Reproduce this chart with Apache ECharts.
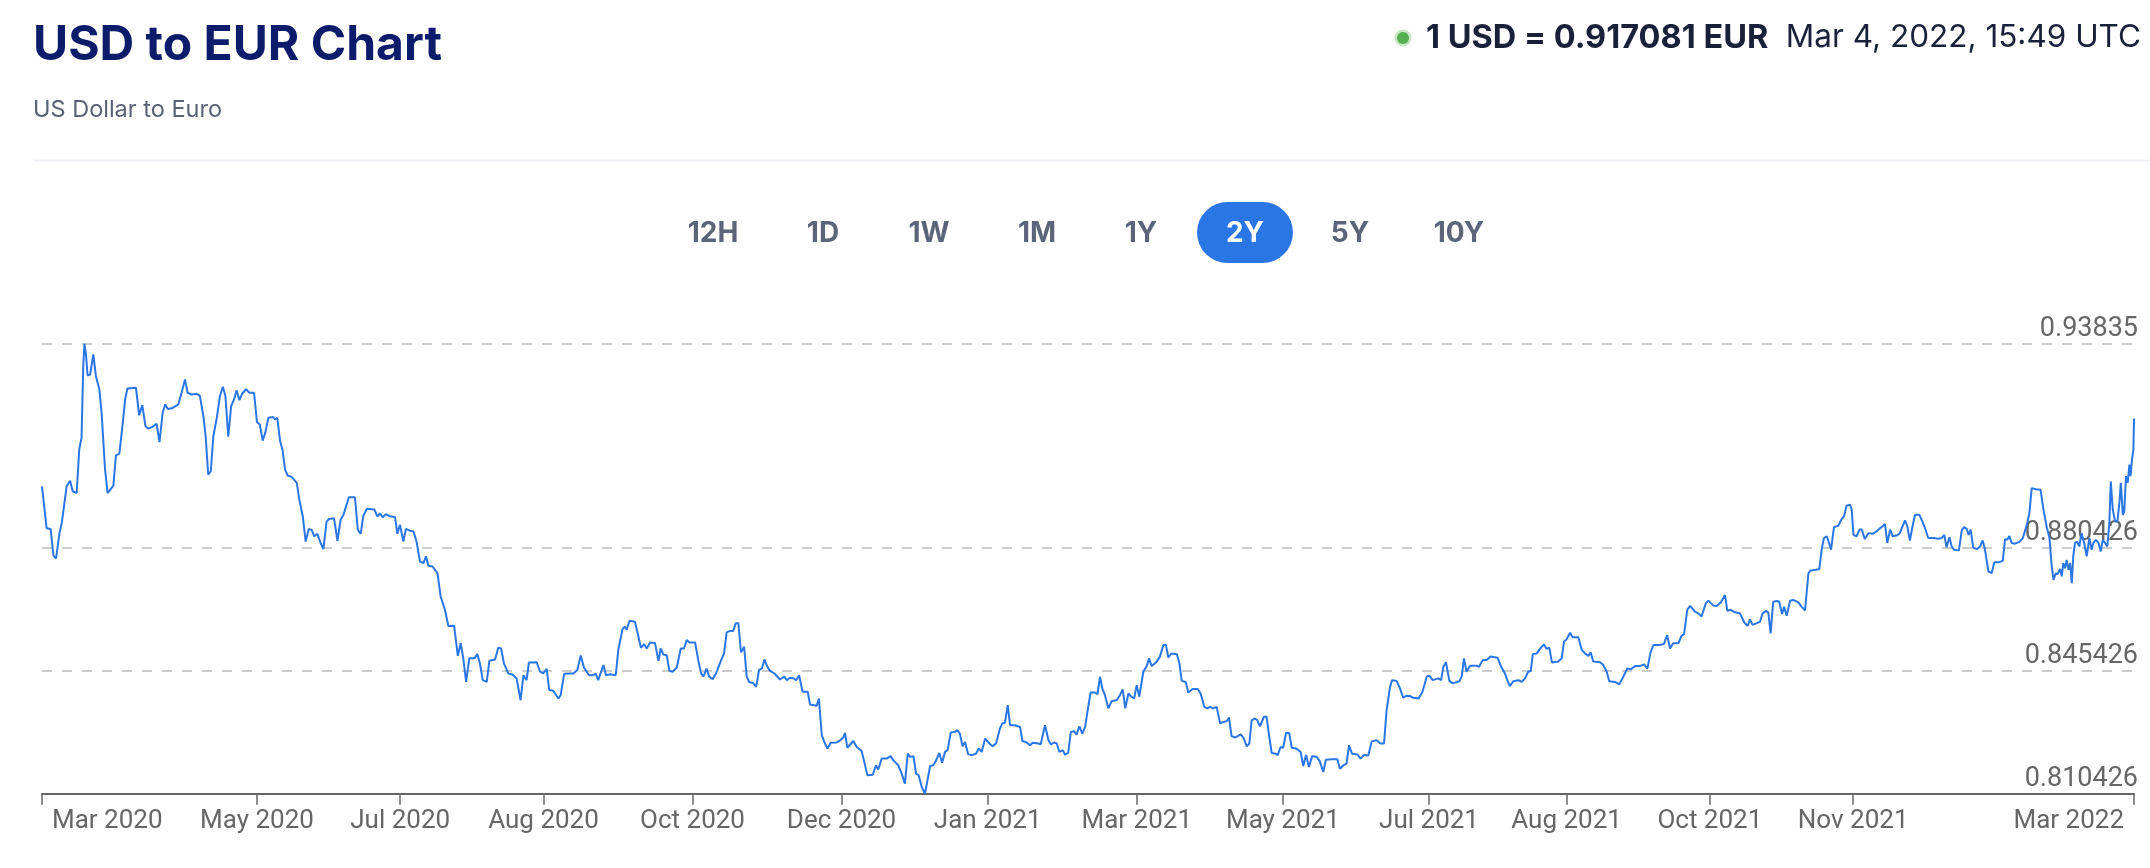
<!DOCTYPE html>
<html lang="en">
<head>
<meta charset="UTF-8">
<title>USD to EUR Chart</title>
<script src="https://cdn.jsdelivr.net/npm/echarts@6/dist/echarts.min.js"></script>
<style>
html, body { margin: 0; padding: 0; background: #fff; }
#chart { width: 2150px; height: 868px; }
</style>
</head>
<body>
<div id="chart"></div>
<script>
// [days since 4 Mar 2020, USD->EUR rate]
const spring2020 = [
[0,0.8978],[1.6,0.8859],[3.0,0.8857],[4.0,0.8781],[4.9,0.8773],[6.1,0.8845],[6.9,0.8874],[8.6,0.8978],[9.8,0.8994],[10.7,0.8964],
[12.1,0.8959],[13.0,0.9083],[13.8,0.9116],[14.4,0.9320],[14.8,0.93835],[15.4,0.9349],[15.9,0.9293],[16.8,0.9296],[17.9,0.9353],[18.8,0.9292],
[20.0,0.9254],[20.8,0.9187],[22.0,0.9026],[22.9,0.8959],[23.7,0.8967],[24.9,0.8980],[25.8,0.9066],[27.0,0.9071],[28.2,0.9159],[29.0,0.9225],
[29.8,0.9256],[30.7,0.9257],[32.8,0.9258],[33.9,0.9180],[35.0,0.9209],[36.1,0.9149],[37.1,0.9142],[38.5,0.9147],[40.0,0.9156],[41.0,0.9104],
[42.1,0.9187],[43.0,0.9211],[43.9,0.9198],[45.6,0.9201],[47.6,0.9211],[48.7,0.9244],[49.9,0.9282],[50.8,0.9244],[52.2,0.9239],[54.0,0.9241],
[55.1,0.9235],[56.3,0.9178],[57.1,0.9121],[58.0,0.9011],[58.9,0.9021],[59.8,0.9121],[61.0,0.9173],[62.1,0.9235],[63.1,0.9261],[64.0,0.9235],
[65.0,0.9119],[66.0,0.9206],[67.0,0.9225],[67.9,0.9251],[68.9,0.9223],[69.9,0.9242],[71.2,0.9254],[72.4,0.9244],[74.0,0.9244],[75.0,0.9161],
[76.0,0.9154],[77.0,0.9108],[77.9,0.9130],[79.0,0.9173],[80.7,0.9175],[81.3,0.9168],[82.1,0.9173],[83.1,0.9106],[83.9,0.9083],[84.8,0.9026],
[85.7,0.9009],[87.1,0.9005],[88.9,0.8988],[89.8,0.8940],[91.0,0.8893],[92.0,0.8821],[93.1,0.8857],[94.1,0.8854],[95.0,0.8836],[96.1,0.8843],
[97.2,0.8817],[98.2,0.8800],[99.3,0.8878],[100.2,0.8885],[101.9,0.8887],[103.1,0.8823],[104.2,0.8883],[105.2,0.8897],[106.1,0.8921],[107.1,0.8947],
[109.2,0.8947],[110.2,0.8855],[111.2,0.8843],[112.1,0.8893],[113.3,0.8914],[116.0,0.8912],[117.0,0.8893],[118.0,0.8901],[118.9,0.8890],[120.0,0.8899],
[121.4,0.8893],[123.2,0.8891],[124.0,0.8843],[124.9,0.8869],[126.1,0.8821],[127.0,0.8857],[128.4,0.8852],[129.6,0.8850],[130.7,0.8821],[131.9,0.8764],
[133.1,0.8760],[134.0,0.8779],[134.8,0.8752],[136.3,0.8750],[138.0,0.8731],[139.1,0.8665],[140.6,0.8627],[141.8,0.8581],[143.8,0.8582],[145.1,0.8496]
];
const autumn2020 = [
[146.1,0.8532],[147.0,0.8489],[148.0,0.8422],[149.1,0.8489],[150.9,0.8489],[151.9,0.8501],[152.8,0.8475],[153.8,0.8427],[155.2,0.8422],[156.1,0.8482],
[158.1,0.8486],[159.2,0.8519],[160.2,0.8517],[161.2,0.8475],[162.7,0.8446],[164.2,0.8443],[165.6,0.8432],[167.0,0.8370],[168.0,0.8441],[169.1,0.8427],
[169.9,0.8477],[172.6,0.8478],[173.8,0.8451],[174.9,0.8446],[176.1,0.8459],[177.0,0.8399],[178.4,0.8397],[180.2,0.8375],[181.0,0.8385],[182.2,0.8445],
[183.7,0.8446],[185.4,0.8446],[186.8,0.8456],[188.0,0.8497],[189.1,0.8463],[190.9,0.8441],[192.4,0.8441],[193.2,0.8446],[194.1,0.8427],[195.9,0.8470],
[196.8,0.8441],[198.2,0.8444],[200.2,0.8441],[201.1,0.8513],[202.6,0.8573],[203.4,0.8579],[204.0,0.8570],[205.0,0.8596],[206.9,0.8593],[208.1,0.8551],
[209.0,0.8519],[210.1,0.8529],[211.0,0.8517],[212.2,0.8534],[213.9,0.8533],[215.1,0.8482],[215.9,0.8517],[216.8,0.8500],[218.0,0.8498],[218.9,0.8454],
[220.1,0.8451],[221.5,0.8463],[222.1,0.8465],[222.9,0.8517],[224.0,0.8517],[225.0,0.8541],[225.9,0.8534],[227.9,0.8534],[229.0,0.8484],[230.0,0.8446],
[230.8,0.8437],[231.9,0.8460],[232.8,0.8437],[234.0,0.8430],[235.2,0.8446],[236.4,0.8472],[238.0,0.8503],[238.9,0.8563],[240.1,0.8567],[241.2,0.8567],
[242.1,0.8589],[243.0,0.8589],[243.9,0.8506],[245.0,0.8522],[245.9,0.8437],[246.8,0.8421],[248.0,0.8420],[249.2,0.8408],[250.2,0.8456],[251.2,0.8460],
[252.1,0.8486],[253.1,0.8465],[254.0,0.8454],[255.6,0.8446],[257.5,0.8429],[259.0,0.8437],[259.9,0.8427],[261.0,0.8434],[262.4,0.8432],[263.1,0.8427],
[264.2,0.8441],[265.4,0.8394],[267.2,0.8394],[268.0,0.8358],[270.3,0.8354],[271.1,0.8375],[272.1,0.8271],[273.2,0.8247],[274.1,0.8233],[275.2,0.8249],
[277.3,0.8250],[278.5,0.8256],[279.6,0.8264],[280.2,0.8277],[281.0,0.8235]
];
const winter2021 = [
[283.1,0.8254],[284.3,0.8237],[286.0,0.8226],[286.8,0.8199],[288.0,0.8157],[289.9,0.8158],[291.0,0.8185],[291.8,0.8173],[293.0,0.8204],[294.8,0.8204],
[296.1,0.8211],[297.1,0.8199],[298.8,0.8185],[300.0,0.8161],[301.1,0.8133],[302.1,0.8218],[302.9,0.8209],[304.1,0.8211],[305.0,0.8161],[305.9,0.8157],
[307.0,0.8123],[308.1,0.810426],[309.1,0.8147],[309.9,0.8183],[311.0,0.8185],[312.0,0.8199],[313.1,0.8220],[314.1,0.8192],[315.1,0.8223],[316.0,0.8228],
[317.1,0.8278],[318.6,0.8280],[319.4,0.8285],[320.3,0.8275],[321.2,0.8239],[322.1,0.8251],[323.2,0.8216],[324.4,0.8214],[325.9,0.8218],[326.9,0.8233],
[327.9,0.8223],[329.1,0.8261],[330.6,0.8247],[331.7,0.8239],[332.9,0.8247],[334.3,0.8290],[335.1,0.8304],[336.0,0.8306],[337.0,0.8356],[337.8,0.8299],
[339.5,0.8299],[341.3,0.8294],[342.1,0.8254],[343.6,0.8250],[344.8,0.8242],[345.7,0.8249],[347.7,0.8247],[348.5,0.8245],[350.0,0.8299],[351.2,0.8256],
[352.1,0.8244],[353.1,0.8250],[354.1,0.8247],[355.0,0.8223],[356.2,0.8228],[357.0,0.8215],[358.1,0.8220],[359.0,0.8280],[360.1,0.8282],[361.0,0.8272],
[362.0,0.8296],[363.0,0.8275],[364.0,0.8294],[364.9,0.8342],[365.9,0.8392],[367.4,0.8392],[368.3,0.8387],[369.2,0.8437],[370.0,0.8403],[370.9,0.8385],
[372.1,0.8347],[373.3,0.8368],[375.0,0.8370],[376.2,0.8385],[377.1,0.8401],[378.0,0.8347],[379.1,0.8389],[380.2,0.8380],[381.1,0.8375],[382.0,0.8413],
[382.9,0.8380],[384.3,0.8451],[385.5,0.8467],[386.3,0.8489],[387.2,0.8467],[388.7,0.8477],[390.1,0.8494],[391.3,0.8527],[392.2,0.8527],[393.0,0.8492],
[394.2,0.8503],[396.0,0.8501],[396.9,0.8475],[397.7,0.8425],[399.1,0.8422],[400.0,0.8392],[401.5,0.8402],[403.3,0.8402],[404.3,0.8389],[405.6,0.8351],
[406.7,0.8347],[407.6,0.8351],[408.7,0.8347],[409.9,0.8351],[411.1,0.8304],[412.2,0.8308],[413.4,0.8310],[414.2,0.8321],[415.1,0.8268],[416.3,0.8264],
[418.3,0.8273],[419.2,0.8264],[420.4,0.8239],[421.3,0.8247],[422.1,0.8313],[423.3,0.8318],[424.1,0.8313],[425.0,0.8296]
];
const summer2021 = [
[426.4,0.8323],[427.3,0.8323],[428.1,0.8275],[429.1,0.8220],[430.5,0.8218],[431.2,0.8214],[432.2,0.8237],[433.1,0.8235],[434.1,0.8277],[435.2,0.8277],
[436.1,0.8235],[437.6,0.8233],[439.2,0.8223],[440.1,0.8183],[441.1,0.8214],[442.1,0.8180],[443.2,0.8211],[444.8,0.8209],[445.9,0.8196],[447.1,0.8166],
[448.0,0.8201],[450.0,0.8202],[452.0,0.8202],[452.9,0.8175],[454.1,0.8185],[455.2,0.8190],[456.1,0.8242],[457.1,0.8218],[459.0,0.8216],[460.1,0.8204],
[461.3,0.8214],[462.8,0.8213],[464.0,0.8253],[465.7,0.8256],[467.1,0.8247],[468.3,0.8247],[469.2,0.8342],[470.4,0.8408],[471.1,0.8427],[472.7,0.8425],
[473.9,0.8403],[475.0,0.8377],[476.2,0.8383],[477.3,0.8382],[478.5,0.8377],[480.4,0.8375],[481.7,0.8394],[483.2,0.8437],[484.1,0.8440],[485.3,0.8427],
[487.2,0.8432],[488.2,0.8427],[489.0,0.8465],[489.9,0.8478],[491.1,0.8425],[492.2,0.8418],[494.6,0.8424],[495.4,0.8437],[496.2,0.8489],[497.1,0.8451],
[498.3,0.8468],[500.6,0.8468],[501.5,0.8465],[502.7,0.8484],[504.1,0.8484],[505.5,0.8494],[507.9,0.8491],[509.3,0.8463],[510.5,0.8446],[511.3,0.8427],
[512.2,0.8410],[513.4,0.8424],[515.2,0.8427],[516.3,0.8422],[517.5,0.8432],[518.6,0.8451],[519.5,0.8453],[520.2,0.8501],[521.6,0.8503],[522.7,0.8516],
[524.1,0.8529],[525.0,0.8516],[526.0,0.8519],[526.9,0.8477],[529.1,0.8480],[530.3,0.8489],[531.1,0.8536],[532.0,0.8543],[533.2,0.8562],[534.1,0.8549],
[536.1,0.8549],[537.3,0.8513],[538.4,0.8503],[539.6,0.8496],[540.4,0.8506],[541.3,0.8480],[543.7,0.8478],[544.8,0.8470],[546.0,0.8451],[546.9,0.8424],
[548.9,0.8422],[550.4,0.8415],[551.8,0.8437],[553.2,0.8460],[554.4,0.8458],[555.9,0.8467],[557.6,0.8467],[559.0,0.8472],[560.2,0.8460],[561.3,0.8506],
[562.3,0.8527],[564.4,0.8527],[566.0,0.8530],[567.1,0.8555],[568.1,0.8517],[569.2,0.8532],[571.0,0.8532],[572.1,0.8553]
];
const winter2022 = [
[573.0,0.8558],[574.1,0.8627],[575.1,0.8638],[576.8,0.8622],[578.0,0.8617],[579.1,0.8608],[580.6,0.8646],[581.5,0.8653],[583.2,0.8639],[584.4,0.8638],
[585.8,0.8648],[587.3,0.8669],[588.1,0.8624],[589.3,0.8627],[590.8,0.8620],[592.5,0.8617],[594.0,0.8591],[595.2,0.8581],[596.0,0.8600],[596.9,0.8584],
[598.6,0.8590],[599.5,0.8593],[600.4,0.8617],[601.6,0.8624],[602.4,0.8619],[603.2,0.8560],[604.1,0.8650],[605.5,0.8652],[606.2,0.8650],[607.2,0.8615],
[607.9,0.8636],[608.8,0.8610],[610.0,0.8653],[611.1,0.8655],[612.9,0.8648],[614.0,0.8636],[615.2,0.8625],[616.4,0.8731],[617.2,0.8739],[619.0,0.8741],
[620.2,0.8743],[621.0,0.8798],[621.8,0.8831],[622.8,0.8836],[623.6,0.8817],[624.3,0.8798],[625.3,0.8862],[626.8,0.8866],[628.0,0.8885],[628.8,0.8893],
[629.7,0.8923],[630.9,0.8926],[631.5,0.8912],[632.1,0.8840],[633.2,0.8836],[634.2,0.8855],[635.0,0.8855],[636.1,0.8828],[637.3,0.8845],[638.8,0.8843],
[640.2,0.8850],[641.1,0.8857],[642.2,0.8864],[643.1,0.8871],[643.9,0.8817],[644.9,0.8855],[645.8,0.8836],[647.4,0.8839],[648.3,0.8845],[649.2,0.8864],
[650.1,0.8881],[650.9,0.8864],[651.8,0.8824],[652.7,0.8864],[653.6,0.8897],[655.1,0.8897],[655.9,0.8883],[657.1,0.8859],[658.2,0.8831],[660.0,0.8831],
[661.7,0.8829],[662.9,0.8831],[663.8,0.8840],[664.6,0.8805],[665.6,0.8833],[666.4,0.8807],[667.2,0.8798],[668.9,0.8796],[669.9,0.8853],[670.7,0.8862],
[671.6,0.8857],[672.3,0.8840],[673.0,0.8855],[673.9,0.8803],[675.3,0.8800],[676.3,0.8807],[677.2,0.8824],[678.0,0.8798],[679.2,0.8736],[680.3,0.8731],
[681.3,0.8762],[682.7,0.8762],[684.2,0.8766],[685.0,0.8828],[685.8,0.8826],[686.5,0.8837],[687.3,0.8817],[688.5,0.8815],[690.0,0.8820],[691.2,0.8831],
[692.6,0.8869],[693.5,0.8902],[694.3,0.8973],[695.8,0.8970],[697.4,0.8968],[698.4,0.8912],[699.5,0.8864],[700.5,0.8831],[701.3,0.8750],[701.9,0.8712],
[702.7,0.8731],[703.4,0.8729],[704.2,0.8743],[704.8,0.8722],[705.3,0.8760],[705.9,0.8745],[706.5,0.8769],[707.1,0.8741],[707.7,0.8760],[708.3,0.8703],
[708.8,0.8779],[709.4,0.8817],[710.2,0.8821],[710.9,0.8807],[711.7,0.8845],[712.6,0.8817],[713.5,0.8779],[714.4,0.8831],[715.2,0.8798],[715.8,0.8817],
[716.7,0.8826],[717.6,0.8817],[718.4,0.8793],[719.1,0.8826],[719.9,0.8817],[720.7,0.8807],[721.4,0.8874],[721.9,0.8992],[722.6,0.8912],[723.4,0.8878],
[724.2,0.8878],[724.9,0.8931],[725.4,0.8988],[726.1,0.8897],[726.6,0.8906],[727.2,0.9007],[727.8,0.8988],[728.4,0.9040],[728.8,0.9007],[729.3,0.9054],
[729.8,0.9083],[730,0.917081]
];

const xTickDates = ['2020-03-04', '2020-05-18', '2020-07-07', '2020-08-26', '2020-10-17', '2020-12-08', '2021-01-28',
  '2021-03-21', '2021-05-11', '2021-07-01', '2021-08-18', '2021-10-07', '2021-11-26', '2022-03-04'];
const yTickValues = [0.810426, 0.845426, 0.880426, 0.93835];
const yTickLabels = ['0.810426', '0.845426', '0.880426', '0.93835'];
const ranges = ['12H', '1D', '1W', '1M', '1Y', '2Y', '5Y', '10Y'];
const activeRange = '2Y';

const START = Date.UTC(2020, 2, 4);
const DAY = 86400000;
const MONTHS = ['Jan', 'Feb', 'Mar', 'Apr', 'May', 'Jun', 'Jul', 'Aug', 'Sep', 'Oct', 'Nov', 'Dec'];
const BLUE = '#2b76e5';

const points = [].concat(spring2020, autumn2020, winter2021, summer2021, winter2022)
  .map(p => [START + p[0] * DAY, p[1]]);
const xTicks = xTickDates.map(d => Date.parse(d));

// header, subtitle, range buttons
const graphics = [
  { type: 'text', x: 33, y: 46, style: { text: 'USD to EUR Chart', font: 'bold 48px Inter', fill: '#0d1b6b', verticalAlign: 'middle', textVerticalAlign: 'middle' } },
  { type: 'text', x: 33, y: 110, style: { text: 'US Dollar to Euro', font: '23.5px Inter', fill: '#5b6275', verticalAlign: 'middle', textVerticalAlign: 'middle' } },
  { type: 'line', shape: { x1: 33, y1: 160.5, x2: 2150, y2: 160.5 }, style: { stroke: '#eef1f6', lineWidth: 2 } },
  { type: 'circle', shape: { cx: 1403, cy: 38, r: 8.5 }, style: { fill: 'rgba(92,184,92,0.35)' } },
  { type: 'circle', shape: { cx: 1403, cy: 38, r: 6 }, style: { fill: '#56b052' } },
  { type: 'text', x: 1426, y: 38, style: { text: '1 USD = 0.917081 EUR', font: 'bold 32.5px Inter', fill: '#18203a', verticalAlign: 'middle', textVerticalAlign: 'middle' } },
  { type: 'text', x: 2141, y: 38, style: { text: 'Mar 4, 2022, 15:49 UTC', font: '31.5px Inter', fill: '#18203a', align: 'right', textAlign: 'right', verticalAlign: 'middle', textVerticalAlign: 'middle' } }
];
const btnCenters = [713, 823, 929, 1037, 1141, 1245, 1350, 1459];
ranges.forEach((r, i) => {
  const on = r === activeRange;
  if (on) {
    graphics.push({ type: 'rect', shape: { x: btnCenters[i] - 48, y: 202, width: 96, height: 61, r: 30.5 }, style: { fill: BLUE } });
  }
  graphics.push({ type: 'text', x: btnCenters[i], y: 234, style: { text: r, font: 'bold 28px Inter', fill: on ? '#ffffff' : '#5b6478', align: 'center', textAlign: 'center', verticalAlign: 'middle', textVerticalAlign: 'middle' } });
});

const chart = echarts.init(document.getElementById('chart'));
chart.setOption({
  animation: false,
  backgroundColor: '#ffffff',
  grid: { left: 42, right: 16, top: 343.7, bottom: 74.3, containLabel: false, outerBoundsMode: 'none' },
  graphic: graphics,
  xAxis: {
    type: 'value',
    min: START,
    max: START + 730 * DAY,
    axisLine: { lineStyle: { color: '#666666', width: 2 } },
    axisTick: { show: true, length: 11, customValues: xTicks, lineStyle: { color: '#666666', width: 1.5 } },
    axisLabel: {
      customValues: xTicks,
      margin: 15,
      color: '#666666',
      fontFamily: 'Roboto',
      fontSize: 26,
      padding: [0, 10, 0, 10],
      alignMinLabel: 'left',
      alignMaxLabel: 'right',
      formatter: v => {
        const d = new Date(v);
        return MONTHS[d.getUTCMonth()] + ' ' + d.getUTCFullYear();
      }
    },
    splitLine: { show: false }
  },
  yAxis: {
    type: 'value',
    position: 'right',
    min: yTickValues[0],
    max: yTickValues[yTickValues.length - 1],
    axisLine: { show: false },
    axisTick: { show: false, customValues: yTickValues.slice(1) },
    splitLine: { show: true, lineStyle: { color: '#cccccc', width: 2, type: [10, 10] } },
    axisLabel: {
      inside: true,
      customValues: yTickValues,
      margin: -4,
      color: '#666666',
      fontFamily: 'Roboto',
      fontSize: 27,
      verticalAlign: 'bottom',
      padding: [0, 0, 1, 0],
      formatter: v => {
        let best = 0;
        yTickValues.forEach((t, i) => { if (Math.abs(t - v) < Math.abs(yTickValues[best] - v)) best = i; });
        return yTickLabels[best];
      }
    }
  },
  series: [{
    type: 'line',
    data: points,
    showSymbol: false,
    symbol: 'none',
    lineStyle: { color: BLUE, width: 2 },
    z: 3
  }]
});
window.addEventListener('resize', () => chart.resize());
</script>
</body>
</html>
